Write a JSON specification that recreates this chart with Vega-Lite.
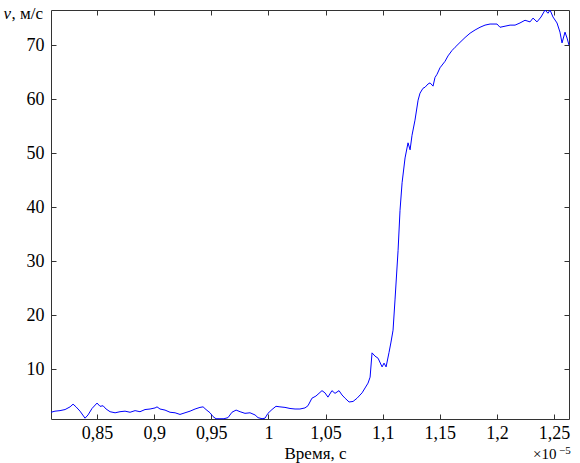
{
  "$schema": "https://vega.github.io/schema/vega-lite/v6.json",
  "width": 518,
  "height": 409,
  "autosize": "none",
  "padding": {"left": 51, "top": 10, "right": 11, "bottom": 44},
  "background": "white",
  "config": {
    "view": {"stroke": null},
    "font": "Liberation Serif",
    "axis": {
      "grid": false,
      "labelFont": "Liberation Serif",
      "titleFont": "Liberation Serif",
      "labelFontSize": 18,
      "titleFontSize": 17,
      "titleFontWeight": "normal",
      "labelColor": "black",
      "titleColor": "black",
      "domainColor": "#333333",
      "tickColor": "#333333",
      "domainWidth": 1,
      "tickWidth": 1
    }
  },
  "data": {
    "values": [
      {"t": 0.8097, "v": 2.0}, {"t": 0.8132, "v": 2.2}, {"t": 0.8176, "v": 2.3}, {"t": 0.822, "v": 2.5},
      {"t": 0.8264, "v": 3.0}, {"t": 0.829, "v": 3.5}, {"t": 0.8316, "v": 3.0}, {"t": 0.8351, "v": 2.2},
      {"t": 0.8395, "v": 0.9}, {"t": 0.8421, "v": 1.5}, {"t": 0.8456, "v": 2.7}, {"t": 0.85, "v": 3.7},
      {"t": 0.8526, "v": 3.1}, {"t": 0.8553, "v": 3.2}, {"t": 0.8579, "v": 2.6}, {"t": 0.8614, "v": 2.1},
      {"t": 0.8658, "v": 1.9}, {"t": 0.8701, "v": 2.1}, {"t": 0.8745, "v": 2.2}, {"t": 0.8789, "v": 2.0},
      {"t": 0.8833, "v": 2.3}, {"t": 0.8876, "v": 2.1}, {"t": 0.892, "v": 2.5}, {"t": 0.8964, "v": 2.6},
      {"t": 0.9008, "v": 2.8}, {"t": 0.9025, "v": 3.0}, {"t": 0.9051, "v": 2.6}, {"t": 0.9095, "v": 2.4},
      {"t": 0.9139, "v": 2.0}, {"t": 0.9183, "v": 1.9}, {"t": 0.9226, "v": 1.6}, {"t": 0.927, "v": 1.9},
      {"t": 0.9314, "v": 2.2}, {"t": 0.9358, "v": 2.6}, {"t": 0.9401, "v": 2.9}, {"t": 0.9428, "v": 3.0},
      {"t": 0.9454, "v": 2.5}, {"t": 0.9489, "v": 1.9}, {"t": 0.9515, "v": 1.2}, {"t": 0.9541, "v": 0.8},
      {"t": 0.9576, "v": 0.8}, {"t": 0.9611, "v": 0.8}, {"t": 0.9646, "v": 1.0}, {"t": 0.9681, "v": 2.0},
      {"t": 0.9717, "v": 2.4}, {"t": 0.9752, "v": 2.1}, {"t": 0.9795, "v": 1.8}, {"t": 0.9839, "v": 1.9},
      {"t": 0.9883, "v": 1.5}, {"t": 0.9909, "v": 1.0}, {"t": 0.9944, "v": 0.8}, {"t": 0.997, "v": 0.9},
      {"t": 0.9996, "v": 1.8}, {"t": 1.0031, "v": 2.5}, {"t": 1.0066, "v": 3.1}, {"t": 1.0101, "v": 3.0},
      {"t": 1.0145, "v": 2.9}, {"t": 1.0189, "v": 2.7}, {"t": 1.0233, "v": 2.6}, {"t": 1.0276, "v": 2.6},
      {"t": 1.032, "v": 2.8}, {"t": 1.0346, "v": 3.2}, {"t": 1.0381, "v": 4.6}, {"t": 1.0416, "v": 5.0},
      {"t": 1.0469, "v": 6.0}, {"t": 1.0495, "v": 5.6}, {"t": 1.0521, "v": 4.8}, {"t": 1.0556, "v": 6.0},
      {"t": 1.0583, "v": 5.5}, {"t": 1.0618, "v": 6.0}, {"t": 1.0644, "v": 5.2}, {"t": 1.0671, "v": 4.6},
      {"t": 1.0706, "v": 3.9}, {"t": 1.0741, "v": 4.0}, {"t": 1.0776, "v": 4.6}, {"t": 1.082, "v": 5.6},
      {"t": 1.0846, "v": 6.5}, {"t": 1.0872, "v": 7.4}, {"t": 1.089, "v": 8.5}, {"t": 1.0907, "v": 13.0},
      {"t": 1.0933, "v": 12.4}, {"t": 1.096, "v": 12.0}, {"t": 1.0995, "v": 10.4}, {"t": 1.1012, "v": 11.1},
      {"t": 1.103, "v": 10.4}, {"t": 1.1056, "v": 13.1}, {"t": 1.1073, "v": 15.0}, {"t": 1.1091, "v": 17.2},
      {"t": 1.1108, "v": 22.8}, {"t": 1.1135, "v": 32.0}, {"t": 1.1152, "v": 39.4}, {"t": 1.117, "v": 44.5},
      {"t": 1.1196, "v": 49.1}, {"t": 1.1222, "v": 51.9}, {"t": 1.124, "v": 50.6}, {"t": 1.1257, "v": 53.3},
      {"t": 1.1283, "v": 56.1}, {"t": 1.131, "v": 59.8}, {"t": 1.1327, "v": 61.1}, {"t": 1.1353, "v": 62.0},
      {"t": 1.1371, "v": 62.2}, {"t": 1.1397, "v": 62.8}, {"t": 1.1415, "v": 63.0}, {"t": 1.1441, "v": 62.4},
      {"t": 1.1458, "v": 64.0}, {"t": 1.1476, "v": 64.6}, {"t": 1.1502, "v": 65.8}, {"t": 1.1546, "v": 67.0},
      {"t": 1.1572, "v": 68.0}, {"t": 1.1607, "v": 69.0}, {"t": 1.1634, "v": 69.6}, {"t": 1.1677, "v": 70.5},
      {"t": 1.1721, "v": 71.4}, {"t": 1.1765, "v": 72.2}, {"t": 1.1809, "v": 72.8}, {"t": 1.1852, "v": 73.3},
      {"t": 1.1896, "v": 73.7}, {"t": 1.194, "v": 73.9}, {"t": 1.2001, "v": 73.9}, {"t": 1.2027, "v": 73.3},
      {"t": 1.2071, "v": 73.5}, {"t": 1.2115, "v": 73.7}, {"t": 1.2159, "v": 73.7}, {"t": 1.2202, "v": 74.1},
      {"t": 1.2246, "v": 74.6}, {"t": 1.229, "v": 74.3}, {"t": 1.2316, "v": 75.0}, {"t": 1.2351, "v": 74.3},
      {"t": 1.2386, "v": 75.2}, {"t": 1.2421, "v": 76.5}, {"t": 1.2447, "v": 75.9}, {"t": 1.2465, "v": 76.5},
      {"t": 1.2491, "v": 75.2}, {"t": 1.2526, "v": 74.1}, {"t": 1.2552, "v": 72.4}, {"t": 1.257, "v": 70.4},
      {"t": 1.2596, "v": 72.4}, {"t": 1.2614, "v": 71.3}, {"t": 1.2631, "v": 70.0}
    ]
  },
  "layer": [
    {
      "mark": {"type": "line", "color": "#0000ff", "strokeWidth": 1},
      "encoding": {
        "x": {
          "field": "t", "type": "quantitative",
          "scale": {"domain": [0.8097, 1.2631], "nice": false, "zero": false},
          "axis": {
            "orient": "bottom",
            "values": [0.85, 0.9, 0.95, 1, 1.05, 1.1, 1.15, 1.2, 1.25],
            "labelExpr": "replace(toString(datum.value), '.', ',')",
            "tickSize": -5,
            "labelPadding": 10,
            "labelBaseline": "top",
            "labelFlush": false,
            "title": "Время, с",
            "titleX": 264,
            "titleY": 39,
            "titleAlign": "center",
            "titleBaseline": "alphabetic"
          }
        },
        "y": {
          "field": "v", "type": "quantitative",
          "scale": {"domain": [0.75, 76.5], "nice": false, "zero": false},
          "axis": {
            "orient": "left",
            "values": [10, 20, 30, 40, 50, 60, 70],
            "tickSize": -5,
            "labelPadding": 12,
            "labelFlush": false,
            "title": ", м/с",
            "titleAngle": 0,
            "titleAlign": "left",
            "titleBaseline": "alphabetic",
            "titleX": -40,
            "titleY": 8
          }
        }
      }
    },
    {
      "mark": {"type": "line", "strokeOpacity": 0},
      "encoding": {
        "x": {
          "field": "t", "type": "quantitative",
          "axis": {
            "orient": "top",
            "values": [0.85, 0.9, 0.95, 1, 1.05, 1.1, 1.15, 1.2, 1.25],
            "labels": false,
            "tickSize": -5,
            "title": null
          }
        },
        "y": {
          "field": "v", "type": "quantitative",
          "axis": {
            "orient": "right",
            "values": [10, 20, 30, 40, 50, 60, 70],
            "labels": false,
            "tickSize": -5,
            "title": "v",
            "titleFontStyle": "italic",
            "titleAngle": 0,
            "titleAlign": "left",
            "titleBaseline": "alphabetic",
            "titleX": -566,
            "titleY": 8
          }
        }
      }
    },
    {
      "data": {"values": [{"t": 1.2316, "v": -6.6, "label": "×10"}]},
      "mark": {"type": "text", "align": "left", "baseline": "alphabetic", "font": "Liberation Serif", "fontSize": 15, "color": "black"},
      "encoding": {
        "x": {"field": "t", "type": "quantitative", "axis": null},
        "y": {"field": "v", "type": "quantitative", "axis": null},
        "text": {"field": "label"}
      }
    },
    {
      "data": {"values": [{"t": 1.2544, "v": -5.75, "label": "−5"}]},
      "mark": {"type": "text", "align": "left", "baseline": "alphabetic", "font": "Liberation Serif", "fontSize": 11, "color": "black"},
      "encoding": {
        "x": {"field": "t", "type": "quantitative", "axis": null},
        "y": {"field": "v", "type": "quantitative", "axis": null},
        "text": {"field": "label"}
      }
    }
  ],
  "resolve": {"axis": {"x": "independent", "y": "independent"}}
}
